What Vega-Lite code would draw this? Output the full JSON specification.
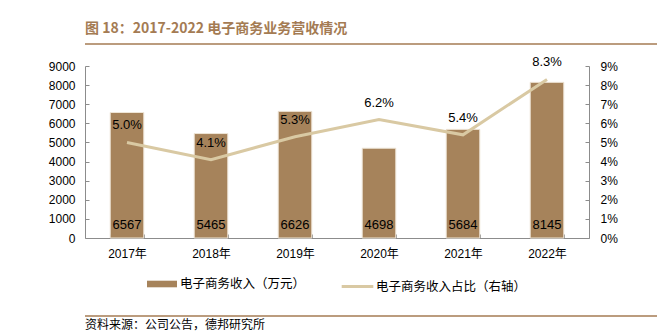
{
  "$schema": "https://vega.github.io/schema/vega-lite/v6.json",
  "padding": {"left": 22, "right": 22, "top": 14, "bottom": 4},
  "background": "white",
  "config": {"view": {"stroke": null}, "legend": {"layout": {"bottom": {"anchor": "middle", "direction": "horizontal", "margin": 12}}}},
  "columns": 1,
  "align": "none",
  "spacing": 11,
  "resolve": {"scale": {"fill": "independent", "stroke": "independent"}, "legend": {"fill": "independent", "stroke": "independent"}},
  "concat": [
    {
      "width": 613,
      "height": 30,
      "data": {"values": [{"label": "图 18：2017-2022 电子商务业务营收情况"}]},
      "layer": [
        {
          "mark": {"type": "text", "align": "left", "baseline": "middle", "font": "Noto Sans CJK SC", "fontWeight": "bold", "fontSize": 14, "color": "#a47b53"},
          "encoding": {
            "text": {"field": "label"},
            "x": {"datum": 0, "scale": {"domain": [0, 1]}, "axis": null},
            "y": {"datum": 0.5, "scale": {"domain": [0, 1]}, "axis": null}
          }
        },
        {
          "mark": {"type": "rule", "color": "#a47b53", "strokeWidth": 1.5},
          "encoding": {"x": {"datum": 0}, "x2": {"datum": 1}, "y": {"datum": 0}}
        }
      ]
    },
    {
      "width": 504,
      "height": 172,
      "data": {"values": [
        {"year": "2017年", "rev": 6567, "pct": 0.050},
        {"year": "2018年", "rev": 5465, "pct": 0.041},
        {"year": "2019年", "rev": 6626, "pct": 0.053},
        {"year": "2020年", "rev": 4698, "pct": 0.062},
        {"year": "2021年", "rev": 5684, "pct": 0.054},
        {"year": "2022年", "rev": 8145, "pct": 0.083}
      ]},
      "encoding": {
        "x": {
          "field": "year", "type": "nominal", "sort": null,
          "scale": {"paddingInner": 0.6, "paddingOuter": 0.3},
          "axis": {"title": null, "labelAngle": 0, "labelFont": "Liberation Sans, Noto Sans CJK SC", "labelFontSize": 12, "labelColor": "#000", "domainColor": "#8c8c8c", "tickColor": "#8c8c8c", "tickBand": "extent", "tickSize": -4, "labelPadding": 14}
        }
      },
      "layer": [
        {
          "layer": [
            {
              "mark": {"type": "bar", "stroke": "#efe6d8", "strokeWidth": 1},
              "encoding": {
                "y": {"field": "rev", "type": "quantitative", "scale": {"domain": [0, 9000], "nice": false},
                  "axis": {"title": null, "orient": "left", "values": [0,1000,2000,3000,4000,5000,6000,7000,8000,9000], "format": "d", "grid": false, "labelOverlap": false, "labelFlush": false, "labelFont": "Liberation Sans", "labelFontSize": 12, "labelColor": "#000", "domainColor": "#8c8c8c", "tickColor": "#8c8c8c", "tickSize": -4, "labelPadding": 14, "minExtent": 63}},
                "fill": {"datum": "电子商务收入（万元）", "type": "nominal",
                  "scale": {"range": ["#a6835b"]},
                  "legend": {
                    "orient": "bottom", "direction": "horizontal", "title": null, "offset": -1, "padding": 11,
                    "labelFont": "Noto Sans CJK SC", "labelFontSize": 12.5, "labelColor": "#000", "labelOffset": 3,
                    "symbolType": "M-1,-0.22H1V0.22H-1Z", "symbolSize": 900, "symbolStrokeWidth": 0, "symbolOpacity": 1
                  }
                }
              }
            },
            {
              "mark": {"type": "text", "baseline": "middle", "dy": -13, "font": "Liberation Sans", "fontSize": 13, "color": "#000"},
              "encoding": {
                "y": {"datum": 0, "type": "quantitative",
                  "axis": {"title": null, "orient": "left", "values": [0,1000,2000,3000,4000,5000,6000,7000,8000,9000], "format": "d", "grid": false, "labelOverlap": false, "labelFlush": false, "labelFont": "Liberation Sans", "labelFontSize": 12, "labelColor": "#000", "domainColor": "#8c8c8c", "tickColor": "#8c8c8c", "tickSize": -4, "labelPadding": 14, "minExtent": 63}},
                "text": {"field": "rev", "type": "quantitative", "format": "d"}
              }
            }
          ]
        },
        {
          "layer": [
            {
              "mark": {"type": "line", "strokeWidth": 3},
              "encoding": {
                "y": {"field": "pct", "type": "quantitative", "scale": {"domain": [0, 0.09], "nice": false},
                  "axis": {"title": null, "orient": "right", "values": [0,0.01,0.02,0.03,0.04,0.05,0.06,0.07,0.08,0.09], "format": ".0%", "grid": false, "labelOverlap": false, "labelFlush": false, "labelFont": "Liberation Sans", "labelFontSize": 12, "labelColor": "#000", "domainColor": "#8c8c8c", "tickColor": "#8c8c8c", "tickSize": -4, "labelPadding": 15}},
                "stroke": {"datum": "电子商务收入占比（右轴）", "type": "nominal",
                  "scale": {"range": ["#d9c9a3"]},
                  "legend": {
                    "orient": "bottom", "direction": "horizontal", "title": null, "offset": -1, "padding": 11,
                    "labelFont": "Noto Sans CJK SC", "labelFontSize": 12.5, "labelColor": "#000", "labelOffset": 1,
                    "symbolType": "stroke", "symbolSize": 1000, "symbolStrokeWidth": 3, "symbolOpacity": 1
                  }
                }
              }
            },
            {
              "mark": {"type": "text", "baseline": "middle", "dy": -17, "font": "Liberation Sans", "fontSize": 13, "color": "#000"},
              "encoding": {
                "y": {"field": "pct", "type": "quantitative",
                  "axis": {"title": null, "orient": "right", "values": [0,0.01,0.02,0.03,0.04,0.05,0.06,0.07,0.08,0.09], "format": ".0%", "grid": false, "labelOverlap": false, "labelFlush": false, "labelFont": "Liberation Sans", "labelFontSize": 12, "labelColor": "#000", "domainColor": "#8c8c8c", "tickColor": "#8c8c8c", "tickSize": -4, "labelPadding": 15}},
                "text": {"field": "pct", "type": "quantitative", "format": ".1%"}
              }
            }
          ]
        }
      ],
      "resolve": {"scale": {"y": "independent"}}
    },
    {
      "width": 613,
      "height": 18,
      "data": {"values": [{"label": "资料来源：公司公告，德邦研究所"}]},
      "layer": [
        {
          "mark": {"type": "rule", "color": "#a47b53", "strokeWidth": 1.5},
          "encoding": {
            "x": {"datum": 0, "scale": {"domain": [0, 1]}, "axis": null},
            "x2": {"datum": 1},
            "y": {"datum": 1, "scale": {"domain": [0, 1]}, "axis": null}
          }
        },
        {
          "mark": {"type": "text", "align": "left", "baseline": "middle", "font": "Noto Sans CJK SC", "fontSize": 12, "color": "#000"},
          "encoding": {"text": {"field": "label"}, "x": {"datum": 0}, "y": {"datum": 0.5}}
        }
      ]
    }
  ]
}
